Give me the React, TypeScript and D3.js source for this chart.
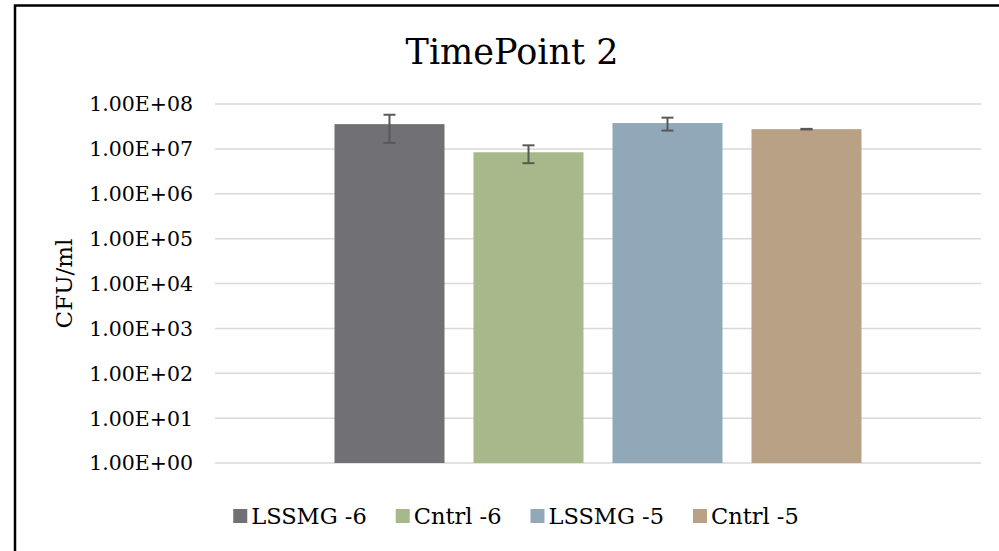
import React, { useEffect, useRef } from "react";
import * as d3 from "d3";

const series = ["LSSMG -6", "Cntrl -6", "LSSMG -5", "Cntrl -5"];
const values = [3.56e7, 8.4e6, 3.76e7, 2.75e7];
const errors = [2.2e7, 3.6e6, 1.2e7, 4e5];
const colors = ["#717075", "#a7b88a", "#91a8b8", "#b9a186"];
const yTicks = [1, 1e1, 1e2, 1e3, 1e4, 1e5, 1e6, 1e7, 1e8];
const title = "TimePoint 2";
const yTitle = "CFU/ml";

const W = 999;
const H = 551;
const FONT = "'DejaVu Serif', serif";

export default function App() {
  const ref = useRef<SVGSVGElement>(null);

  useEffect(() => {
    const svg = d3.select(ref.current);
    svg.selectAll("*").remove();

    const plot = { left: 215, right: 981, top: 104, bottom: 463 };

    const y = d3.scaleLog().domain([1, 1e8]).range([plot.bottom, plot.top]);
    const x = d3
      .scaleBand<string>()
      .domain(series)
      .range([plot.left, plot.right])
      .paddingInner(0.2086)
      .paddingOuter(0.8597);

    // border
    svg
      .append("rect")
      .attr("x", 15)
      .attr("y", 5.5)
      .attr("width", 1000)
      .attr("height", 560)
      .attr("fill", "#fff")
      .attr("stroke", "#000")
      .attr("stroke-width", 2.5);

    // title
    svg
      .append("text")
      .attr("x", 512)
      .attr("y", 64)
      .attr("text-anchor", "middle")
      .attr("font-family", FONT)
      .attr("font-size", 35)
      .attr("fill", "#000")
      .text(title);

    // gridlines
    svg
      .append("g")
      .selectAll("line")
      .data(yTicks)
      .join("line")
      .attr("x1", plot.left)
      .attr("x2", plot.right)
      .attr("y1", (d) => y(d))
      .attr("y2", (d) => y(d))
      .attr("stroke", "#d9d9d9")
      .attr("stroke-width", 1.5);

    // y tick labels
    const fmt = (d: number) => {
      const e = Math.round(Math.log10(d));
      return "1.00E+" + (e < 10 ? "0" + e : String(e));
    };
    svg
      .append("g")
      .selectAll("text")
      .data(yTicks)
      .join("text")
      .attr("x", 193)
      .attr("y", (d) => y(d))
      .attr("dy", "0.36em")
      .attr("text-anchor", "end")
      .attr("font-family", FONT)
      .attr("font-size", 20.5)
      .attr("fill", "#000")
      .text(fmt);

    // y title
    svg
      .append("text")
      .attr("transform", `translate(72, ${(plot.top + plot.bottom) / 2}) rotate(-90)`)
      .attr("text-anchor", "middle")
      .attr("font-family", FONT)
      .attr("font-size", 23)
      .attr("fill", "#000")
      .text(yTitle);

    // bars
    svg
      .append("g")
      .selectAll("rect")
      .data(series)
      .join("rect")
      .attr("x", (d) => x(d)!)
      .attr("width", x.bandwidth())
      .attr("y", (d, i) => y(values[i]))
      .attr("height", (d, i) => y(1) - y(values[i]))
      .attr("fill", (d, i) => colors[i]);

    // error bars
    const eb = svg.append("g").attr("stroke", "#595959").attr("stroke-width", 2);
    series.forEach((s, i) => {
      const cx = x(s)! + x.bandwidth() / 2;
      const hi = y(values[i] + errors[i]);
      const lo = y(values[i] - errors[i]);
      eb.append("line").attr("x1", cx).attr("x2", cx).attr("y1", hi).attr("y2", lo);
      eb.append("line").attr("x1", cx - 6).attr("x2", cx + 6).attr("y1", hi).attr("y2", hi);
      eb.append("line").attr("x1", cx - 6).attr("x2", cx + 6).attr("y1", lo).attr("y2", lo);
    });

    // legend
    const lg = svg.append("g");
    const items = lg
      .selectAll("g")
      .data(series)
      .join("g");
    items
      .append("rect")
      .attr("width", 14)
      .attr("height", 14)
      .attr("y", -7)
      .attr("fill", (d, i) => colors[i]);
    const texts = items
      .append("text")
      .attr("x", 18)
      .attr("dy", "0.36em")
      .attr("font-family", FONT)
      .attr("font-size", 22.5)
      .attr("fill", "#000")
      .text((d) => d);
    const widths: number[] = [];
    texts.each(function () {
      widths.push((this as SVGTextElement).getComputedTextLength() + 18);
    });
    const gap = 29;
    const total = d3.sum(widths) + gap * (widths.length - 1);
    let cur = 516 - total / 2;
    const offs: number[] = [];
    widths.forEach((w) => {
      offs.push(cur);
      cur += w + gap;
    });
    items.attr("transform", (d, i) => `translate(${offs[i]}, 516)`);
  }, []);

  return (
    <div style={{ position: "fixed", left: 0, top: 0, width: W, height: H, background: "#fff" }}>
      <svg ref={ref} width={W} height={H} style={{ display: "block" }} />
    </div>
  );
}
